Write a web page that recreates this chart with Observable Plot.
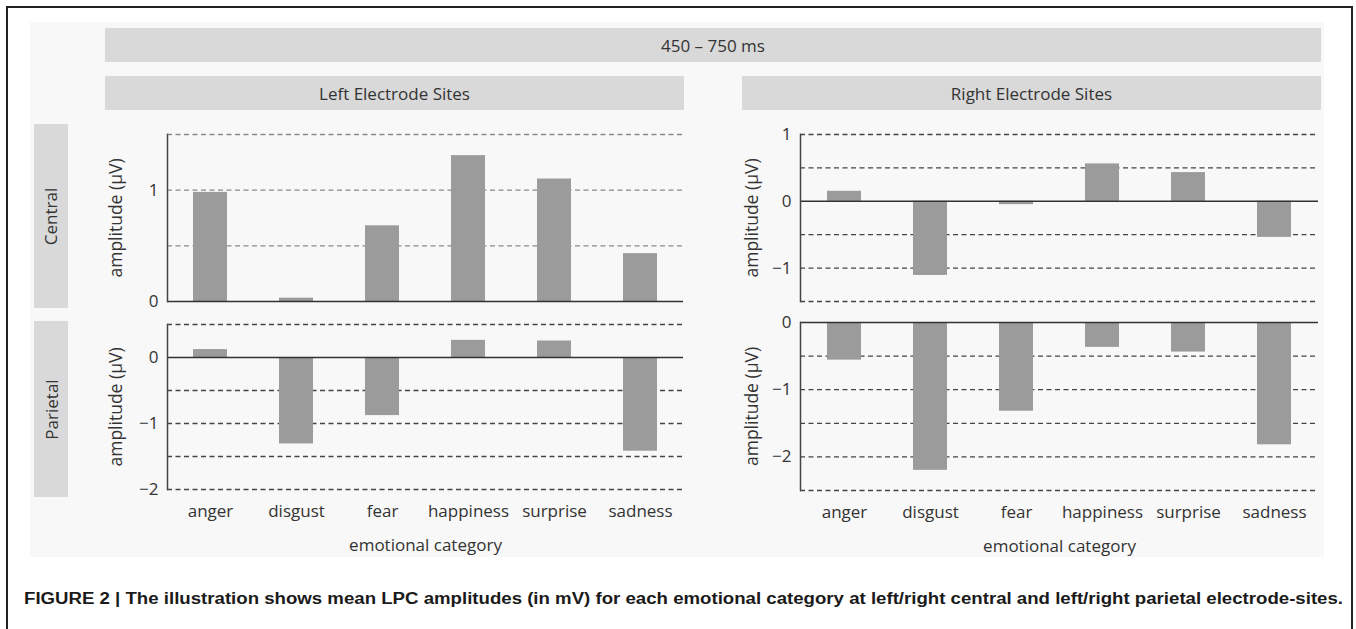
<!DOCTYPE html>
<html>
<head>
<meta charset="utf-8">
<script src="https://cdn.jsdelivr.net/npm/d3@7"></script>
<script src="https://cdn.jsdelivr.net/npm/@observablehq/plot@0.6"></script>
<style>
  html, body { margin: 0; padding: 0; background: #ffffff; }
  body { width: 1356px; height: 629px; position: relative; overflow: hidden; font-family: "Open Sans", sans-serif; color: #333; }
  .abs { position: absolute; }
  .frame { left: 6px; top: 6px; width: 1343px; height: 700px; border: 2px solid #222; border-bottom: none; }
  .bg { left: 30px; top: 22px; width: 1294px; height: 535px; background: #f8f8f8; }
  .bar { background: #d9d9d9; display: flex; align-items: center; justify-content: center; font-size: 17px; color: #333; }
  .side { background: #d9d9d9; display: flex; align-items: center; justify-content: center; }
  .side span { display: inline-block; transform: rotate(-90deg); font-size: 17px; color: #333; white-space: nowrap; }
  .caption { left: 24px; top: 590px; font-family: "Liberation Sans", Arial, sans-serif; font-weight: bold; font-size: 16px; color: #1a1a1a; white-space: nowrap; transform-origin: 0 0; }
</style>
</head>
<body>
<script>
// ---- data ----
const categories = ["anger", "disgust", "fear", "happiness", "surprise", "sadness"];
const leftCentral   = [0.98, 0.03, 0.68, 1.31, 1.10, 0.43];
const leftParietal  = [0.12, -1.31, -0.88, 0.26, 0.25, -1.42];
const rightCentral  = [0.15, -1.11, -0.05, 0.56, 0.43, -0.54];
const rightParietal = [-0.56, -2.20, -1.32, -0.37, -0.44, -1.82];

const leftCentralTicks   = [0, 1];
const leftParietalTicks  = [0, -1, -2];
const rightCentralTicks  = [1, 0, -1];
const rightParietalTicks = [0, -1, -2];

const leftCentralGrid   = [0.5, 1, 1.5];
const leftParietalGrid  = [0.5, -0.5, -1, -1.5, -2];
const rightCentralGrid  = [1, 0.5, -0.5, -1, -1.5];
const rightParietalGrid = [-0.5, -1, -1.5, -2, -2.5];

const timeWindow = "450 – 750 ms";
const sideTitles = ["Left Electrode Sites", "Right Electrode Sites"];
const rowTitles = ["Central", "Parietal"];
const yLabel = "amplitude (μV)";
const xLabel = "emotional category";
const captionText = "FIGURE 2 | The illustration shows mean LPC amplitudes (in mV) for each emotional category at left/right central and left/right parietal electrode-sites.";

// ---- layout helpers ----
function div(cls, style, html) {
  const d = document.createElement("div");
  d.className = "abs " + cls;
  Object.assign(d.style, style);
  if (html != null) d.innerHTML = html;
  document.body.appendChild(d);
  return d;
}

div("frame", {});
div("bg", {});
div("bar", {left: "105px", top: "28px", width: "1216px", height: "34px"}, timeWindow);
div("bar", {left: "105px", top: "76px", width: "579px", height: "34px"}, sideTitles[0]);
div("bar", {left: "742px", top: "76px", width: "579px", height: "34px"}, sideTitles[1]);
div("side", {left: "34px", top: "124px", width: "34px", height: "184px"}, "<span>" + rowTitles[0] + "</span>");
div("side", {left: "34px", top: "321px", width: "34px", height: "176px"}, "<span>" + rowTitles[1] + "</span>");

const fmt = d => d < 0 ? "\u2212" + Math.abs(d) : String(d);

function panel(values, opt) {
  const data = categories.map((c, i) => ({cat: c, value: values[i]}));
  const marks = [
    Plot.ruleY(opt.grid, {stroke: opt.gridColor, strokeWidth: 1.3, strokeDasharray: "5,3.5"}),
    Plot.barY(data, {x: "cat", y: "value", fill: "#9b9b9b"}),
    Plot.ruleY([0], {stroke: "#333", strokeWidth: 1.5}),
    Plot.frame({anchor: "left", stroke: "#444", strokeWidth: 1.5}),
    Plot.text([yLabel], {frameAnchor: "left", textAnchor: "middle", lineAnchor: "middle", rotate: -90, dx: opt.labelDx, fontSize: 17.5, fill: "#333"})
  ];
  if (opt.xAxis) marks.push(Plot.text([xLabel], {frameAnchor: "bottom", textAnchor: "middle", lineAnchor: "middle", dy: 56, fontSize: 17, fill: "#333"}));
  const chart = Plot.plot({
    width: opt.width, height: opt.height,
    marginTop: opt.mt, marginBottom: opt.mb, marginLeft: opt.ml, marginRight: opt.mr,
    style: {background: "transparent", fontFamily: "Open Sans, sans-serif", fontSize: "17px", color: "#333", overflow: "visible"},
    x: {domain: categories, paddingInner: 0.6, paddingOuter: 0.3, axis: opt.xAxis ? "bottom" : null, tickSize: 0, tickPadding: 15, label: null},
    y: {domain: opt.domain, ticks: opt.ticks, tickSize: 0, tickPadding: 9, tickFormat: fmt, label: null},
    marks
  });
  chart.style.position = "absolute";
  chart.style.left = opt.left + "px";
  chart.style.top = opt.top + "px";
  document.body.appendChild(chart);
}

panel(leftCentral, {left: 80, top: 120, width: 610, height: 195, mt: 14, mb: 14, ml: 87, mr: 7,
  domain: [0, 1.5], ticks: leftCentralTicks, grid: leftCentralGrid, gridColor: "#8a8a8a", labelDx: -51, xAxis: false});
panel(leftParietal, {left: 80, top: 310, width: 610, height: 250, mt: 14, mb: 71, ml: 87, mr: 7,
  domain: [-2, 0.5], ticks: leftParietalTicks, grid: leftParietalGrid, gridColor: "#444", labelDx: -51, xAxis: true});
panel(rightCentral, {left: 713, top: 120, width: 615, height: 195, mt: 14, mb: 14, ml: 87, mr: 10,
  domain: [-1.5, 1], ticks: rightCentralTicks, grid: rightCentralGrid, gridColor: "#444", labelDx: -48, xAxis: false});
panel(rightParietal, {left: 713, top: 310, width: 615, height: 250, mt: 12, mb: 70, ml: 87, mr: 10,
  domain: [-2.5, 0], ticks: rightParietalTicks, grid: rightParietalGrid, gridColor: "#444", labelDx: -48, xAxis: true});

const cap = div("caption", {}, captionText);
const w = cap.getBoundingClientRect().width;
cap.style.transform = "scaleX(" + (1319 / w) + ")";
</script>
</body>
</html>
